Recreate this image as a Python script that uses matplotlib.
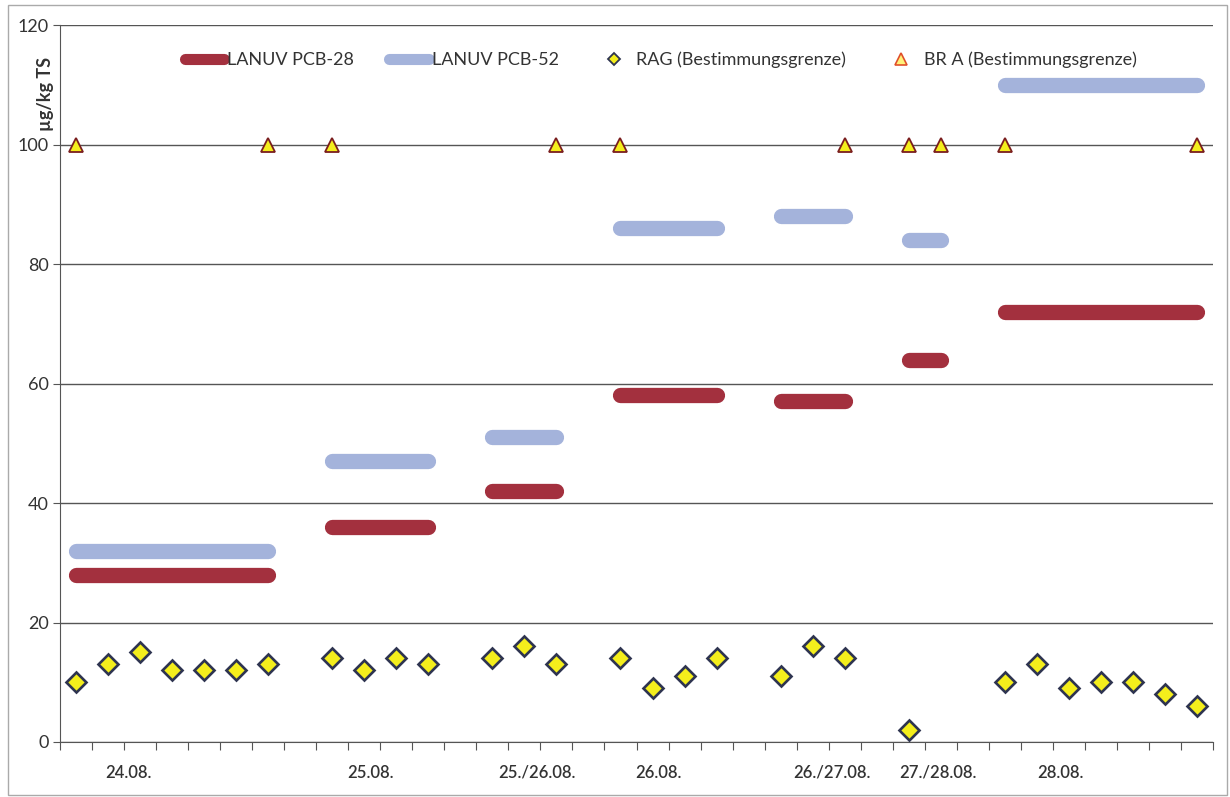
"""PCB-28 / PCB-52 Messwerte mit Bestimmungsgrenzen."""

import matplotlib

matplotlib.use("Agg")
import matplotlib.pyplot as plt  # noqa: E402
import matplotlib.transforms as mtransforms  # noqa: E402
import numpy as np  # noqa: E402
from matplotlib.lines import Line2D  # noqa: E402
from matplotlib.patches import Rectangle  # noqa: E402

nan = np.nan

# 36 sample slots along the category axis
n_slots = 36

pcb28 = [28, 28, 28, 28, 28, 28, 28, nan,
         36, 36, 36, 36, nan,
         42, 42, 42, nan,
         58, 58, 58, 58, nan,
         57, 57, 57, nan,
         64, 64, nan,
         72, 72, 72, 72, 72, 72, 72]
pcb52 = [32, 32, 32, 32, 32, 32, 32, nan,
         47, 47, 47, 47, nan,
         51, 51, 51, nan,
         86, 86, 86, 86, nan,
         88, 88, 88, nan,
         84, 84, nan,
         110, 110, 110, 110, 110, 110, 110]
rag = [10, 13, 15, 12, 12, 12, 13, nan,
       14, 12, 14, 13, nan,
       14, 16, 13, nan,
       14, 9, 11, 14, nan,
       11, 16, 14, nan,
       2, nan, nan,
       10, 13, 9, 10, 10, 8, 6]
bra = [100, nan, nan, nan, nan, nan, 100, nan,
       100, nan, nan, nan, nan,
       nan, nan, 100, nan,
       100, nan, nan, nan, nan,
       nan, nan, 100, nan,
       100, 100, nan,
       100, nan, nan, nan, nan, nan, 100]

date_labels = ["24.08.", "25.08.", "25./26.08.", "26.08.",
               "26./27.08.", "27./28.08.", "28.08."]
date_label_pos = [1.65, 9.2, 14.4, 18.2, 23.6, 26.9, 30.75]

RED = "#A3303E"
BLUE = "#A4B3DB"
YELLOW = "#F4EE1C"
NAVY = "#2E3450"
BROWN = "#7A1E1E"
GRID = "#555555"
INK = "#333333"

plt.rcParams["font.family"] = ["Lato", "DejaVu Sans"]

fig = plt.figure(figsize=(12.3, 7.97), dpi=100)
ax = fig.add_axes([60 / 1230, 1 - 742 / 797, 1153 / 1230, 717 / 797])

x = np.arange(n_slots)
ax.plot(x, pcb28, color=RED, lw=11, solid_capstyle="round", zorder=3)
ax.plot(x, pcb52, color=BLUE, lw=11, solid_capstyle="round", zorder=3)
ax.plot(x, rag, ls="none", marker="D", ms=10, mfc=YELLOW, mec=NAVY,
        mew=1.9, zorder=4)
ax.plot(x, bra, ls="none", marker="^", ms=10, mfc=YELLOW, mec=BROWN,
        mew=1.3, zorder=4)

ax.set_xlim(-0.5, n_slots - 0.5)
ax.set_ylim(0, 120)
ax.set_yticks(np.arange(0, 121, 20))
ax.set_xticks(np.arange(-0.5, n_slots, 1))
ax.set_xticklabels([])
ax.yaxis.grid(True, color=GRID, lw=1)
ax.set_axisbelow(True)
for side in ("top", "right"):
    ax.spines[side].set_visible(False)
ax.spines["left"].set_color(GRID)
ax.spines["bottom"].set_color(GRID)
ax.tick_params(axis="y", length=5, color=GRID, labelsize=13, labelcolor=INK,
               pad=3)
ax.tick_params(axis="x", length=6, color=GRID)

for pos, lab in zip(date_label_pos, date_labels):
    ax.text(pos, -0.043, lab, transform=ax.get_xaxis_transform(),
            ha="center", va="center", fontsize=12, color=INK,
            fontweight="semibold")

ylab_tr = mtransforms.blended_transform_factory(ax.transAxes, ax.transData)
ax.text(-0.013, 108.5, "µg/kg TS", transform=ylab_tr, rotation=90,
        ha="center", va="center", fontsize=13, fontweight="bold", color=INK)

handles = [
    Line2D([], [], color=RED, lw=8, solid_capstyle="round"),
    Line2D([], [], color=BLUE, lw=8, solid_capstyle="round"),
    Line2D([], [], ls="none", marker="D", ms=6.5, mfc=YELLOW, mec=NAVY,
           mew=1.3),
    Line2D([], [], ls="none", marker="^", ms=8, mfc="#FFF27A",
           mec="#E0502A", mew=1.2),
]
labels = ["LANUV PCB-28", "LANUV PCB-52", "RAG (Bestimmungsgrenze)",
          "BR A (Bestimmungsgrenze)"]
ax.legend(handles, labels, ncol=4, loc="center", bbox_to_anchor=(0.521, 0.951),
          frameon=False, fontsize=13, handlelength=2.2, handletextpad=0.15,
          columnspacing=1.95, labelcolor=INK)

fig.patches.append(Rectangle((8 / 1230, 2 / 797), 1219 / 1230, 790 / 797,
                             transform=fig.transFigure, fill=False,
                             edgecolor="#AAAAAA", lw=1))

fig.savefig("out.png", dpi=100, facecolor="white")
